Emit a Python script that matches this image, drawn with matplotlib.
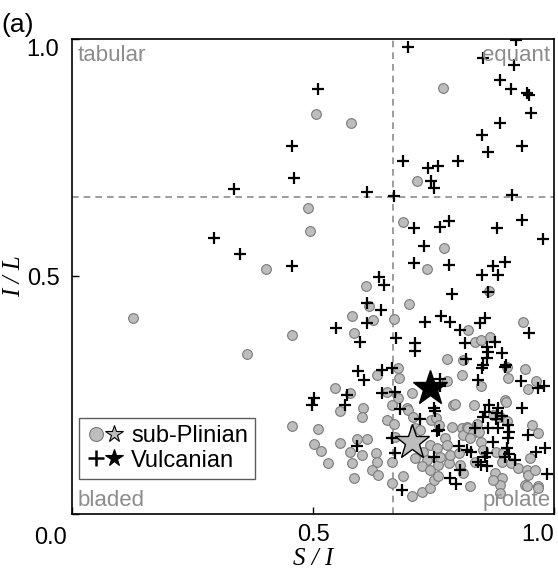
import numpy as np
import matplotlib
matplotlib.use('Agg')
import matplotlib.pyplot as plt
from matplotlib.lines import Line2D
from matplotlib.legend_handler import HandlerTuple

plt.rcParams['font.family'] = ['Liberation Sans', 'DejaVu Sans']

# S/I, I/L pairs
sub_pts = [
    (0.769, 0.896), (0.506, 0.842), (0.578, 0.823), (0.716, 0.700), (0.490, 0.644),
    (0.494, 0.596), (0.687, 0.615), (0.772, 0.559), (0.736, 0.515), (0.402, 0.515),
    (0.127, 0.413), (0.364, 0.337),
    (0.610, 0.479), (0.865, 0.469), (0.617, 0.438), (0.700, 0.442), (0.580, 0.417),
    (0.625, 0.408), (0.667, 0.410), (0.936, 0.405), (0.456, 0.377), (0.584, 0.380),
    (0.822, 0.387), (0.835, 0.363), (0.849, 0.366), (0.867, 0.373), (0.777, 0.326),
    (0.812, 0.324), (0.903, 0.309), (0.940, 0.305), (0.632, 0.293), (0.677, 0.307),
    (0.679, 0.287), (0.777, 0.279), (0.808, 0.293), (0.849, 0.270), (0.905, 0.286),
    (0.963, 0.280), (0.946, 0.263), (0.546, 0.265), (0.577, 0.254), (0.555, 0.217),
    (0.604, 0.224), (0.601, 0.204), (0.653, 0.257), (0.677, 0.244), (0.705, 0.254),
    (0.694, 0.223), (0.791, 0.229), (0.833, 0.229), (0.898, 0.240), (0.874, 0.208),
    (0.888, 0.205), (0.903, 0.195), (0.954, 0.187), (0.967, 0.171), (0.456, 0.186),
    (0.510, 0.179), (0.501, 0.148), (0.516, 0.132), (0.531, 0.108), (0.556, 0.150),
    (0.591, 0.157), (0.611, 0.158), (0.577, 0.131), (0.580, 0.107), (0.584, 0.075),
    (0.601, 0.124), (0.631, 0.128), (0.632, 0.110), (0.622, 0.093), (0.635, 0.082),
    (0.653, 0.198), (0.667, 0.189), (0.670, 0.163), (0.663, 0.110), (0.663, 0.065),
    (0.687, 0.079), (0.705, 0.038),
    (0.663, 0.229), (0.698, 0.219), (0.795, 0.231), (0.712, 0.180), (0.745, 0.198),
    (0.756, 0.202), (0.762, 0.188), (0.788, 0.184), (0.808, 0.180), (0.774, 0.159),
    (0.743, 0.145), (0.757, 0.138), (0.729, 0.131), (0.736, 0.114), (0.712, 0.117),
    (0.726, 0.100), (0.743, 0.093), (0.760, 0.103), (0.781, 0.107), (0.784, 0.124),
    (0.777, 0.145), (0.763, 0.121), (0.802, 0.128), (0.805, 0.103), (0.812, 0.086),
    (0.819, 0.184), (0.812, 0.166), (0.725, 0.047), (0.743, 0.054), (0.750, 0.072),
    (0.760, 0.079),
    (0.849, 0.152), (0.853, 0.135), (0.835, 0.110), (0.880, 0.131), (0.894, 0.128),
    (0.891, 0.110), (0.911, 0.107), (0.925, 0.096), (0.877, 0.086), (0.891, 0.075),
    (0.887, 0.061), (0.873, 0.072), (0.949, 0.117), (0.943, 0.093), (0.946, 0.082),
    (0.960, 0.093), (0.939, 0.061), (0.967, 0.058), (0.825, 0.058), (0.888, 0.044),
    (0.943, 0.059), (0.967, 0.054), (0.901, 0.236), (0.822, 0.180), (0.832, 0.170),
    (0.840, 0.190), (0.826, 0.160), (0.845, 0.172), (0.708, 0.205), (0.722, 0.177),
]

vul_pts = [
    (0.696, 0.984), (0.922, 0.998), (0.853, 0.959), (0.916, 0.945), (0.887, 0.914),
    (0.911, 0.894), (0.943, 0.886), (0.947, 0.882), (0.952, 0.844), (0.510, 0.894),
    (0.887, 0.823), (0.851, 0.798), (0.934, 0.775), (0.862, 0.761), (0.457, 0.775),
    (0.687, 0.744), (0.738, 0.728), (0.760, 0.733), (0.801, 0.743), (0.461, 0.707),
    (0.744, 0.700), (0.751, 0.686), (0.611, 0.677), (0.667, 0.669), (0.912, 0.672),
    (0.934, 0.619), (0.882, 0.601), (0.976, 0.578), (0.710, 0.603), (0.763, 0.604),
    (0.781, 0.617), (0.731, 0.564), (0.710, 0.528), (0.782, 0.524), (0.874, 0.523),
    (0.899, 0.530), (0.851, 0.503), (0.883, 0.503), (0.456, 0.522), (0.636, 0.498),
    (0.647, 0.482), (0.337, 0.684), (0.295, 0.582), (0.349, 0.547),
    (0.863, 0.468), (0.789, 0.463), (0.611, 0.444), (0.640, 0.429), (0.611, 0.403),
    (0.732, 0.405), (0.766, 0.417), (0.784, 0.405), (0.846, 0.401), (0.856, 0.412),
    (0.947, 0.382), (0.548, 0.391), (0.598, 0.363), (0.672, 0.370), (0.805, 0.387),
    (0.877, 0.363), (0.815, 0.359), (0.712, 0.359), (0.712, 0.343), (0.860, 0.352),
    (0.863, 0.342), (0.891, 0.338), (0.860, 0.328), (0.817, 0.326), (0.853, 0.314),
    (0.850, 0.307), (0.901, 0.314), (0.898, 0.309), (0.594, 0.302), (0.606, 0.282),
    (0.643, 0.303), (0.663, 0.307), (0.763, 0.284), (0.842, 0.282), (0.932, 0.279),
    (0.967, 0.265), (0.979, 0.269), (0.501, 0.245), (0.497, 0.230), (0.570, 0.251),
    (0.566, 0.229), (0.643, 0.254), (0.670, 0.257), (0.763, 0.270), (0.750, 0.223),
    (0.753, 0.217), (0.680, 0.221), (0.721, 0.200), (0.864, 0.229), (0.857, 0.215),
    (0.853, 0.205), (0.884, 0.223), (0.881, 0.212), (0.880, 0.201), (0.933, 0.223),
    (0.905, 0.187), (0.907, 0.173), (0.945, 0.166), (0.592, 0.144), (0.663, 0.159),
    (0.670, 0.128), (0.684, 0.051), (0.750, 0.121), (0.762, 0.177), (0.758, 0.174),
    (0.802, 0.144), (0.820, 0.135), (0.804, 0.093), (0.784, 0.075), (0.797, 0.063),
    (0.891, 0.207), (0.863, 0.180), (0.884, 0.180), (0.873, 0.152), (0.905, 0.159),
    (0.903, 0.138), (0.907, 0.127), (0.898, 0.121), (0.918, 0.114), (0.860, 0.128),
    (0.856, 0.121), (0.842, 0.110), (0.848, 0.103), (0.860, 0.100), (0.835, 0.180),
    (0.827, 0.131), (0.963, 0.131), (0.981, 0.138), (0.986, 0.084),
]

# mean values (stars)
sub_mean = (0.705, 0.151)
vul_mean = (0.743, 0.265)

threshold = 2 / 3

sub_x, sub_y = np.array(sub_pts).T
vul_x, vul_y = np.array(vul_pts).T

fig = plt.figure(figsize=(5.58, 5.73), dpi=100)
ax = fig.add_axes([0.129, 0.103, 0.864, 0.829])

grey_face = '#bdbdbd'
grey_edge = '#7a7a7a'
label_grey = '#8c8c8c'

ax.axvline(threshold, color=label_grey, ls=(0, (4, 3)), lw=1.2, zorder=1)
ax.axhline(threshold, color=label_grey, ls=(0, (4, 3)), lw=1.2, zorder=1)

ax.plot(sub_x, sub_y, 'o', ms=7, mfc=grey_face, mec=grey_edge, mew=0.8, zorder=2)
ax.plot(vul_x, vul_y, '+', ms=8, mec='black', mew=1.6, zorder=3)

ax.plot(*sub_mean, '*', ms=26, mfc=grey_face, mec='black', mew=1.0, zorder=4)
ax.plot(*vul_mean, '*', ms=26, mfc='black', mec='black', mew=1.0, zorder=4)

ax.set_xlim(0, 1)
ax.set_ylim(0, 1)
ax.set_xticks([0, 0.5, 1.0])
ax.set_xticklabels(['', '0.5', '1.0'])
ax.set_yticks([0, 0.5, 1.0])
ax.set_yticklabels(['', '0.5', '1.0'])
ax.tick_params(direction='in', length=5, width=1, labelsize=17)
ax.tick_params(axis='x', pad=7)
ax.tick_params(axis='y', pad=9)
ax.get_xticklabels()[2].set_ha('right')
ax.get_yticklabels()[2].set_va('top')
ax.text(-0.01, -0.027, '0.0', transform=ax.transAxes, ha='right', va='top', fontsize=17)
for s in ax.spines.values():
    s.set_linewidth(1.2)

ax.set_xlabel('S / I', fontsize=18, family='Liberation Serif', style='italic', labelpad=2)
ax.set_ylabel('I / L', fontsize=18, family='Liberation Serif', style='italic', labelpad=1)

ax.text(0.012, 0.988, 'tabular', transform=ax.transAxes, ha='left', va='top',
        fontsize=16, color=label_grey)
ax.text(0.992, 0.988, 'equant', transform=ax.transAxes, ha='right', va='top',
        fontsize=16, color=label_grey)
ax.text(0.012, 0.006, 'bladed', transform=ax.transAxes, ha='left', va='bottom',
        fontsize=16, color=label_grey)
ax.text(0.992, 0.006, 'prolate', transform=ax.transAxes, ha='right', va='bottom',
        fontsize=16, color=label_grey)

# legend: symbol pairs (circle/plus with star)
h_sub = (Line2D([], [], ls='', marker='o', ms=10, mfc=grey_face, mec=grey_edge, mew=0.8),
         Line2D([], [], ls='', marker='*', ms=13, mfc=grey_face, mec='black', mew=0.8))
h_vul = (Line2D([], [], ls='', marker='+', ms=12, mec='black', mew=1.8),
         Line2D([], [], ls='', marker='*', ms=13, mfc='black', mec='black', mew=0.8))
leg = ax.legend([h_sub, h_vul], ['sub-Plinian', 'Vulcanian'],
                handler_map={tuple: HandlerTuple(ndivide=None, pad=0.0)},
                loc='lower left', bbox_to_anchor=(0.0145, 0.074), borderaxespad=0,
                fontsize=17, frameon=True, fancybox=False, handlelength=1.6,
                handletextpad=0.3, borderpad=0.3, labelspacing=0.1)
leg.get_frame().set_edgecolor('#333333')
leg.get_frame().set_linewidth(1.0)

fig.text(0.003, 0.978, '(a)', fontsize=19, ha='left', va='top')

fig.savefig('out.png', dpi=100)
